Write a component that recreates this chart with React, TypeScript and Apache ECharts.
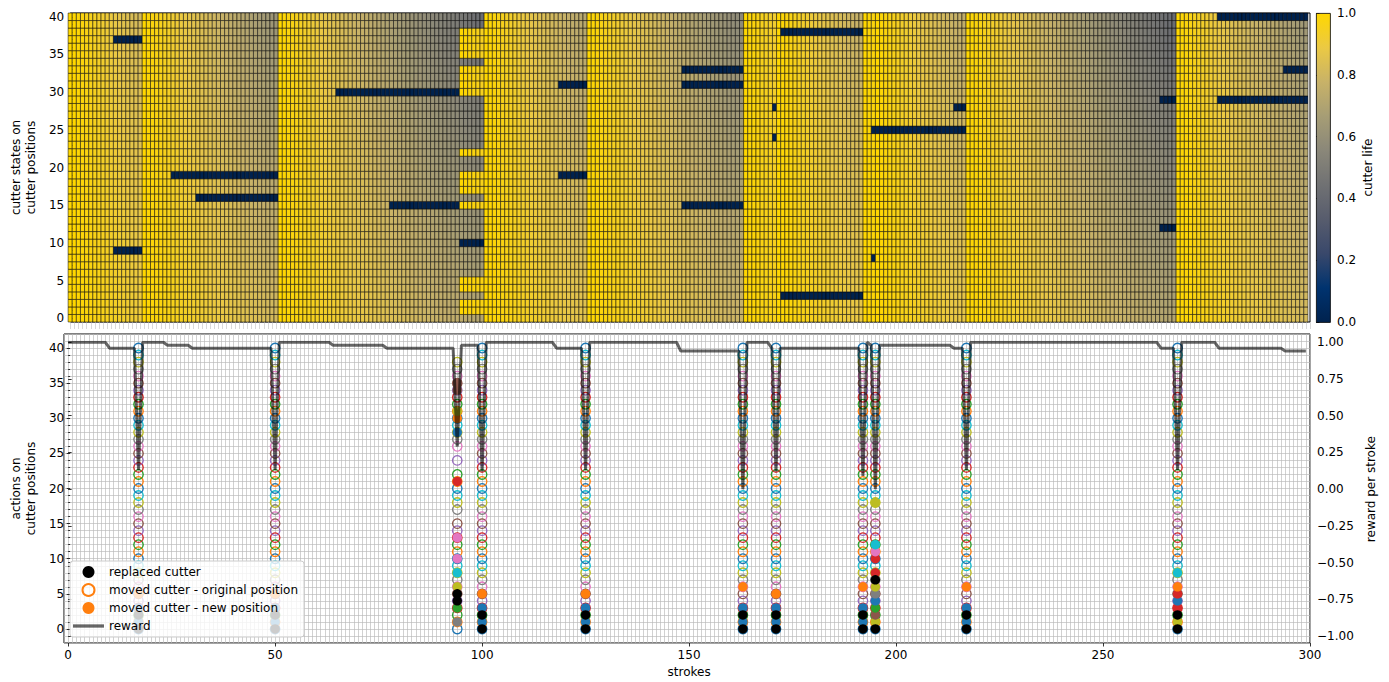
import React, { useEffect, useRef } from "react";
import * as echarts from "echarts";

// ---------------- data ----------------
const rowLabels = ["0","1","2","3","4","5","6","7","8","9","10","11","12","13","14","15","16","17","18","19","20","21","22","23","24","25","26","27","28","29","30","31","32","33","34","35","36","37","38","39","40"];

// strokes at which maintenance actions took place
const eventStrokes = [17, 50, 94, 100, 125, 163, 171, 192, 195, 217, 268];
// at stroke 94 only these positions received a fresh cutter
const partialResetStroke = 94;
const partialResetRows = [38, 37, 36, 35, 33, 32, 31, 30, 22, 19, 18, 17, 15, 5, 4, 2, 1];

// cutter-life loss per stroke on each cutter position (row 0..40)
const wearRate = [
  0.0059, 0.00605, 0.0062, 0.00634, 0.00649, 0.00664, 0.00679, 0.00694, 0.00708, 0.00723,
  0.00738, 0.00753, 0.00768, 0.00782, 0.00797, 0.00812, 0.00827, 0.00842, 0.00856, 0.00871,
  0.00886, 0.00901, 0.00916, 0.0093, 0.00945, 0.0096, 0.00975, 0.0099, 0.01004, 0.01019,
  0.01034, 0.01049, 0.01064, 0.01078, 0.01093, 0.01108, 0.01123, 0.01138, 0.01152, 0.01167,
  0.01182,
];

// broken cutters (life 0): [row, first stroke, last stroke]
const brokenBlocks: [number, number, number][] = [
  [37, 10, 16], [9, 10, 16], [19, 24, 49], [16, 30, 49], [30, 64, 93], [15, 77, 93],
  [10, 94, 99], [31, 118, 124], [19, 118, 124], [33, 148, 162], [31, 148, 162], [15, 148, 162],
  [28, 170, 170], [24, 170, 170], [38, 172, 191], [3, 172, 191], [25, 194, 216], [8, 194, 194],
  [28, 214, 216], [29, 264, 267], [12, 264, 267], [40, 278, 299], [29, 278, 299], [33, 294, 299],
];

// reward per stroke, as runs of [value, number of strokes]
const rewardRuns: [number, number][] = [
  [1.0, 10], [0.96, 7], [0.13, 1], [1.0, 6], [0.98, 6], [0.96, 20], [0.13, 1], [1.0, 13],
  [0.98, 13], [0.96, 17], [0.29, 1], [0.98, 5], [0.12, 1], [1.0, 17], [0.96, 7], [0.13, 1],
  [1.0, 22], [0.94, 15], [0.0, 1], [1.0, 6], [0.96, 1], [0.12, 1], [0.96, 20], [0.09, 1],
  [1.0, 1], [0.98, 1], [0.0, 1], [0.98, 18], [0.96, 3], [0.13, 1], [1.0, 46], [0.96, 4],
  [0.13, 1], [1.0, 9], [0.96, 16], [0.94, 6],
];

// actions per event (aligned with eventStrokes)
const missingOriginalRows: number[][] = [[], [], [40, 39, 25, 23, 16], [], [], [], [], [], [], [], []];
const replacedRows: number[][] = [
  [0, 2], [0, 2], [4, 5], [0, 2], [0, 2], [0, 2], [0, 2], [0, 2], [0, 7], [0, 2], [0, 2],
];
// [row, colour index of the cutter that was moved there]
const newPositions: [number, number][][] = [
  [[1, 0], [3, 0], [5, 1]],
  [[1, 0], [3, 0], [5, 1]],
  [[1, 7], [3, 2], [6, 8], [8, 9], [10, 6], [13, 6], [21, 3], [28, 0], [30, 1], [31, 8], [34, 5], [35, 5]],
  [[1, 0], [3, 0], [5, 1]],
  [[1, 0], [3, 0], [5, 1]],
  [[1, 0], [3, 0], [6, 1]],
  [[1, 0], [3, 0], [5, 1]],
  [[1, 0], [3, 0], [6, 1]],
  [[1, 8], [2, 5], [3, 2], [4, 0], [5, 7], [6, 8], [8, 3], [10, 3], [11, 6], [12, 9], [18, 8]],
  [[1, 0], [3, 0], [6, 1]],
  [[1, 8], [3, 3], [4, 0], [5, 3], [6, 1], [8, 9]],
];

const tab10 = ["#1f77b4", "#ff7f0e", "#2ca02c", "#d62728", "#9467bd", "#8c564b", "#e377c2", "#7f7f7f", "#bcbd22", "#17becf"];
// navy -> grey -> gold colour scale as seen on the colour bar
const lifeColors = ["#00224e", "#00336f", "#39486b", "#575c6d", "#707173", "#8a8779", "#a69d75", "#c8b268", "#ebc944", "#ffd700"];

// ---------------- derived tables ----------------
function buildLife() {
  const out: number[][] = [];
  for (let s = -1; s < 300; s++) {
    for (let r = 0; r < rowLabels.length; r++) {
      let start = 0;
      for (const e of eventStrokes) {
        if (e <= s && (e !== partialResetStroke || partialResetRows.includes(r))) start = e;
      }
      let life = 1 - wearRate[r] * Math.max(0, s - start);
      for (const b of brokenBlocks) if (b[0] === r && s >= b[1] && s <= b[2]) life = 0;
      out.push([s, r, life]);
    }
  }
  return out;
}

function buildReward() {
  const out: number[][] = [];
  let s = 0;
  for (const [v, n] of rewardRuns) for (let i = 0; i < n; i++) out.push([s++, v]);
  return out;
}

const FONT = "DejaVu Sans";

export default function App() {
  const ref = useRef<HTMLDivElement>(null);
  useEffect(() => {
    if (!ref.current) return;
    const chart = echarts.init(ref.current, undefined, { renderer: "svg" });

    const openData: any[] = [];
    const newData: any[] = [];
    const replacedData: any[] = [];
    eventStrokes.forEach((e, i) => {
      for (let r = 0; r < rowLabels.length; r++) {
        if (missingOriginalRows[i].includes(r)) continue;
        openData.push({ value: [e, r], itemStyle: { borderColor: tab10[r % 10] } });
      }
      newPositions[i].forEach(([r, c]) => newData.push({ value: [e, r], itemStyle: { color: tab10[c] } }));
      replacedRows[i].forEach((r) => replacedData.push([e, r]));
    });

    const axisText = { color: "#000", fontSize: 12, fontFamily: FONT };
    const tickStyle = { color: "#000", width: 0.8 };
    const gridLine = { show: true, lineStyle: { color: "#b8b8b8", width: 0.65 } };

    // bottom panel: data range x [-1, 300], y [-2, 42] over 1246 x 309 px
    const L = 64, W = 1246, TOPB = 334, H = 309;
    const xu = W / 301, yu = H / 44;

    const option: any = {
      animation: false,
      textStyle: { fontFamily: FONT },
      grid: [
        { left: L, top: 13, width: W, height: H, show: true, borderColor: "#000", borderWidth: 1 },
        { left: L, top: TOPB, width: W, height: H, show: true, borderColor: "#000", borderWidth: 1 },
        { left: L + xu, top: TOPB, width: W - xu, height: H },
        { left: L, top: TOPB + 2 * yu, width: W, height: 40 * yu },
        { left: L, top: 342.3, width: W, height: 293.7 },
        { left: 1316, top: 13, width: 14, height: 309 },
      ],
      xAxis: [
        {
          gridIndex: 0, type: "value", min: -1, max: 300, interval: 1,
          axisLine: { show: false }, axisLabel: { show: false }, splitLine: { show: false },
          axisTick: { show: true, length: 7, lineStyle: { color: "#cfcfcf", width: 0.8 } },
        },
        {
          gridIndex: 1, type: "value", min: -1, max: 300, interval: 1,
          axisLine: { show: false }, axisLabel: { show: false }, axisTick: { show: false }, splitLine: gridLine,
        },
        {
          gridIndex: 2, type: "value", min: 0, max: 300, interval: 50,
          axisLine: { show: false }, splitLine: { show: false },
          axisTick: { show: true, length: 3.5, lineStyle: tickStyle },
          axisLabel: { ...axisText, margin: 6 },
          name: "strokes", nameLocation: "middle", nameGap: 23, nameTextStyle: axisText,
        },
        { gridIndex: 3, type: "value", min: 0, max: 1, show: false },
        { gridIndex: 4, type: "value", min: -1, max: 300, show: false },
        { gridIndex: 5, type: "value", min: 0, max: 1, show: false },
      ],
      yAxis: [
        {
          gridIndex: 0, type: "category", data: rowLabels,
          axisLine: { show: false }, splitLine: { show: false },
          axisTick: { show: true, interval: 0, alignWithLabel: true, length: 2.5, lineStyle: tickStyle },
          axisLabel: { ...axisText, interval: 4, margin: 6 },
          name: "cutter states on\ncutter positions", nameLocation: "middle", nameGap: 28, nameRotate: 90,
          nameTextStyle: { ...axisText, lineHeight: 15 },
        },
        {
          gridIndex: 1, type: "value", min: -2, max: 42, interval: 1,
          axisLine: { show: false }, axisLabel: { show: false }, axisTick: { show: false }, splitLine: gridLine,
        },
        { gridIndex: 2, type: "value", min: 0, max: 1, show: false },
        {
          gridIndex: 3, type: "value", min: 0, max: 40, interval: 5,
          axisLine: { show: false }, splitLine: { show: false },
          axisTick: { show: true, length: 3.5, lineStyle: tickStyle },
          minorTick: { show: true, splitNumber: 5, length: 2, lineStyle: tickStyle },
          axisLabel: { ...axisText, margin: 6 },
          name: "actions on\ncutter positions", nameLocation: "middle", nameGap: 28, nameRotate: 90,
          nameTextStyle: { ...axisText, lineHeight: 15 },
        },
        {
          gridIndex: 4, type: "value", position: "right", min: -1, max: 1, interval: 0.25,
          axisLine: { show: false }, splitLine: { show: false },
          axisTick: { show: true, length: 3.5, lineStyle: tickStyle },
          axisLabel: {
            ...axisText, margin: 7,
            formatter: (v: number) => (v < 0 ? "\u2212" : "") + Math.abs(v).toFixed(2),
          },
          name: "reward per stroke", nameLocation: "middle", nameGap: 46, nameRotate: 90, nameTextStyle: axisText,
        },
        {
          gridIndex: 5, type: "value", position: "right", min: 0, max: 1, interval: 0.2,
          axisLine: { show: false }, splitLine: { show: false },
          axisTick: { show: true, length: 3.5, lineStyle: tickStyle },
          axisLabel: { ...axisText, margin: 7, formatter: (v: number) => v.toFixed(1) },
          name: "cutter life", nameLocation: "middle", nameGap: 32, nameRotate: 90, nameTextStyle: axisText,
        },
      ],
      visualMap: {
        type: "continuous", min: 0, max: 1, dimension: 2, seriesIndex: 0, show: false,
        inRange: { color: lifeColors },
      },
      legend: {
        data: [
          "replaced cutter",
          "moved cutter - original position",
          "moved cutter - new position",
          { name: "reward", icon: "path://M0 0 H30 V3.2 H0 Z" },
        ],
        orient: "vertical", left: 70, top: 561, itemWidth: 31, itemHeight: 12, itemGap: 4,
        padding: [4, 6, 4, 3], backgroundColor: "rgba(255,255,255,0.8)", borderColor: "#cccccc",
        borderWidth: 1, borderRadius: 3,
        textStyle: { fontSize: 12, lineHeight: 14, color: "#000", fontFamily: FONT }, z: 10,
      },
      graphic: [
        {
          type: "rect", left: 1316, top: 13, z: 10,
          shape: { width: 14, height: 309 },
          style: {
            fill: new echarts.graphic.LinearGradient(0, 0, 0, 1,
              lifeColors.slice().reverse().map((c, i) => ({ offset: i / (lifeColors.length - 1), color: c }))),
            stroke: "#000", lineWidth: 0.8,
          },
        },
      ],
      series: [
        {
          type: "custom", name: "life", xAxisIndex: 0, yAxisIndex: 0, data: buildLife(),
          encode: { x: 0, y: 1 }, clip: true, z: 1,
          renderItem: (params: any, api: any) => {
            const s = api.value(0);
            const r = api.value(1);
            const p0 = api.coord([s - 0.5, r]);
            const p1 = api.coord([s + 0.5, r]);
            const h = api.size([1, 1])[1];
            return {
              type: "rect",
              shape: { x: p0[0], y: p0[1] - h / 2, width: p1[0] - p0[0], height: h },
              style: { fill: api.visual("color"), stroke: "#000", lineWidth: 0.5 },
            };
          },
        },
        {
          type: "scatter", name: "moved cutter - original position", xAxisIndex: 1, yAxisIndex: 1,
          symbol: "circle", symbolSize: 9.5, data: openData, z: 2,
          itemStyle: { color: "rgba(255,255,255,0)", borderColor: "#ff7f0e", borderWidth: 1.3, opacity: 1 },
        },
        {
          type: "scatter", name: "moved cutter - new position", xAxisIndex: 1, yAxisIndex: 1,
          symbol: "circle", symbolSize: 9.5, data: newData, z: 3,
          itemStyle: { color: "#ff7f0e", opacity: 1 },
        },
        {
          type: "scatter", name: "replaced cutter", xAxisIndex: 1, yAxisIndex: 1,
          symbol: "circle", symbolSize: 9.5, data: replacedData, z: 4,
          itemStyle: { color: "#000", opacity: 1 },
        },
        {
          type: "line", name: "reward", xAxisIndex: 4, yAxisIndex: 4, data: buildReward(),
          symbol: "none", showSymbol: false, z: 5,
          lineStyle: { color: "rgba(0,0,0,0.6)", width: 3 },
          itemStyle: { color: "rgba(0,0,0,0.6)" },
        },
      ],
    };
    chart.setOption(option);
    return () => chart.dispose();
  }, []);

  return <div ref={ref} style={{ position: "absolute", left: 0, top: 0, width: 1389, height: 682 }} />;
}
